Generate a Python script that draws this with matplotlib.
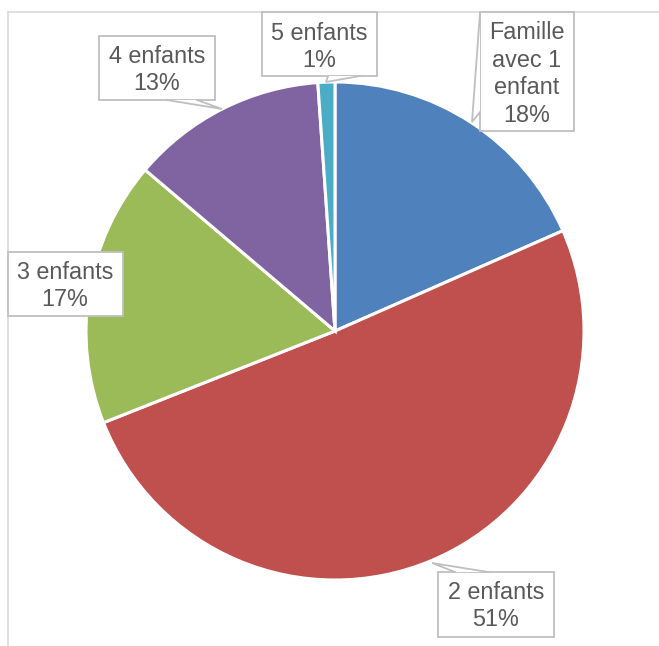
"""Pie chart: family distribution by number of children."""

import matplotlib

matplotlib.use("Agg")
import matplotlib.pyplot as plt
from matplotlib.patches import Polygon, Rectangle

plt.rcParams["font.family"] = ["Liberation Sans", "DejaVu Sans"]

# Data
categories = ["Famille\navec 1\nenfant", "2 enfants", "3 enfants", "4 enfants", "5 enfants"]
shares = [18.4, 50.6, 17.2, 12.7, 1.1]
colors = ["#4F81BD", "#C0504D", "#9BBB59", "#8064A2", "#4BACC6"]

W, H = 659, 646
TEXT_COLOR = "#595959"
BOX_EDGE = "#BFBFBF"

# Label layout in pixel coordinates (top-left origin): box, text centre, callout
LABEL_LAYOUT = [
    {"box": (480, 12, 574, 131), "text": (527, 74),
     "callout": [(480, 13), (472, 122), (480, 112)]},
    {"box": (438, 572, 554, 637), "text": (496, 606),
     "callout": [(455, 572), (432, 563), (488, 572)]},
    {"box": (8, 252, 123, 316), "text": (65, 286), "callout": None},
    {"box": (99, 36, 215, 100), "text": (157, 70),
     "callout": [(167, 100), (222, 109), (197, 100)]},
    {"box": (262, 12, 377, 76), "text": (319, 47),
     "callout": [(328, 76), (326, 82), (360, 76)]},
]


def flip(pt):
    """Convert top-left pixel coordinates to data coordinates."""
    return (pt[0], H - pt[1])


fig = plt.figure(figsize=(W / 100, H / 100), dpi=100)
ax = fig.add_axes([0, 0, 1, 1])

# Chart area border (only top and left are visible in the crop)
ax.plot([8, 8], [0, H - 12], color="#D9D9D9", lw=1.2, zorder=0)
ax.plot([8, W], [H - 12, H - 12], color="#D9D9D9", lw=1.2, zorder=0)

ax.pie(
    shares,
    colors=colors,
    startangle=90,
    counterclock=False,
    center=flip((335, 331)),
    radius=249,
    wedgeprops={"edgecolor": "white", "linewidth": 2.2},
    frame=True,
)
ax.set_xlim(0, W)
ax.set_ylim(0, H)
ax.set_aspect("equal")
ax.axis("off")

for name, value, layout in zip(categories, shares, LABEL_LAYOUT):
    x0, y0, x1, y1 = layout["box"]
    ax.add_patch(Rectangle(flip((x0, y1)), x1 - x0, y1 - y0,
                           facecolor="white", edgecolor=BOX_EDGE, lw=1.3, zorder=3))
    if layout["callout"]:
        pts = [flip(p) for p in layout["callout"]]
        ax.add_patch(Polygon(pts, closed=True, facecolor="white",
                             edgecolor="none", zorder=4))
        ax.plot([p[0] for p in pts], [p[1] for p in pts],
                color=BOX_EDGE, lw=1.3, zorder=5, solid_joinstyle="miter")
    tx, ty = flip(layout["text"])
    ax.text(tx, ty, f"{name}\n{round(value):d}%", ha="center", va="center",
            fontsize=16.8, color=TEXT_COLOR, linespacing=1.26, zorder=6)

fig.savefig("out.png", dpi=100, facecolor="white")
